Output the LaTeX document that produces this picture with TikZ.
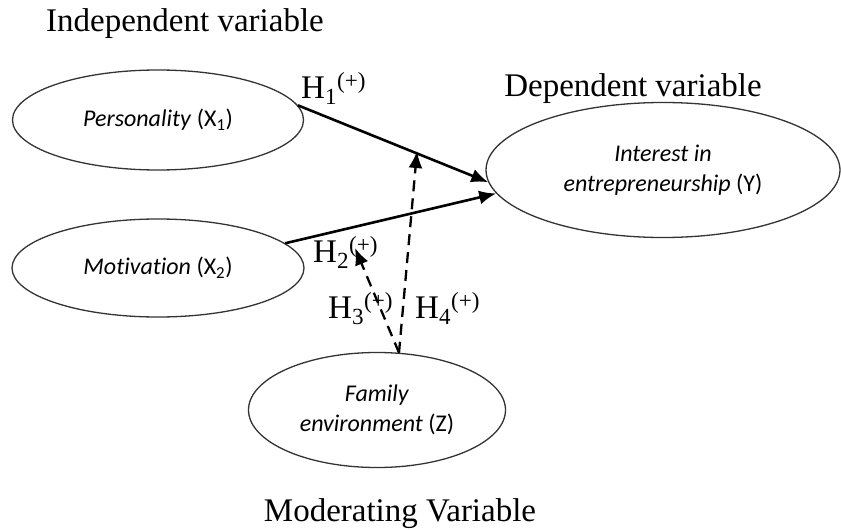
\documentclass[tikz,border=0pt]{standalone}
\usepackage{fontspec}
\setmainfont{Liberation Serif}
\newfontfamily\carlito[Ligatures=NoCommon]{Carlito}
\usetikzlibrary{shapes.geometric,arrows.meta}

\begin{document}
\begin{tikzpicture}[x=1pt,y=-1pt]
	\tikzset{VarStyle/.style = {draw=black!80,line width=1.3pt,ellipse,inner sep=0pt,align=center,font=\carlito\fontsize{24}{30}\selectfont}}
	\tikzset{EdgeStyle/.style = {-{Latex[length=17pt,width=14pt]},line width=2.6pt}}
	\tikzset{HypStyle/.style = {anchor=base west,inner sep=0pt,font=\fontsize{33}{40}\selectfont}}
	\tikzset{TitleStyle/.style = {anchor=base,inner sep=0pt,font=\fontsize{33}{40}\selectfont}}
	\useasboundingbox (0,0) rectangle (841,530);

	\node[VarStyle,minimum width=291pt,minimum height=100pt] (X1) at (158,120) {\textit{Personality} (X\textsubscript{1})};
	\node[VarStyle,minimum width=292pt,minimum height=98pt] (X2) at (158,268) {\textit{Motivation} (X\textsubscript{2})};
	\node[VarStyle,minimum width=354pt,minimum height=135pt] (Y) at (663,170) {\textit{Interest in}\\\textit{entrepreneurship} (Y)};
	\node[VarStyle,minimum width=257pt,minimum height=115pt] (Z) at (377,410) {\textit{Family}\\\textit{environment} (Z)};

	\node[TitleStyle] (indep) at (185,31) {Independent variable};
	\node[TitleStyle] (dep) at (633,96) {Dependent variable};
	\node[TitleStyle] (mod) at (400,521) {Moderating Variable};

	\node[HypStyle] (H1) at (301,98) {H\textsubscript{1}\textsuperscript{(+)}};
	\node[HypStyle] (H2) at (313,262) {H\textsubscript{2}\textsuperscript{(+)}};
	\node[HypStyle] (H3) at (328,318) {H\textsubscript{3}\textsuperscript{(+)}};
	\node[HypStyle] (H4) at (415,318) {H\textsubscript{4}\textsuperscript{(+)}};

	\coordinate (m1) at (417,151);
	\coordinate (m2) at (355,248);

	\draw[EdgeStyle] (X1.6) -- (Y.184);
	\draw[EdgeStyle] (X2.11) -- (Y.188);
	\tikzset{EdgeStyle/.append style = {dash pattern=on 11pt off 7pt,line width=2.3pt}}
	\draw[EdgeStyle] (Z.69) -- (m1);
	\draw[EdgeStyle] (Z.69) -- (m2);
\end{tikzpicture}
\end{document}
